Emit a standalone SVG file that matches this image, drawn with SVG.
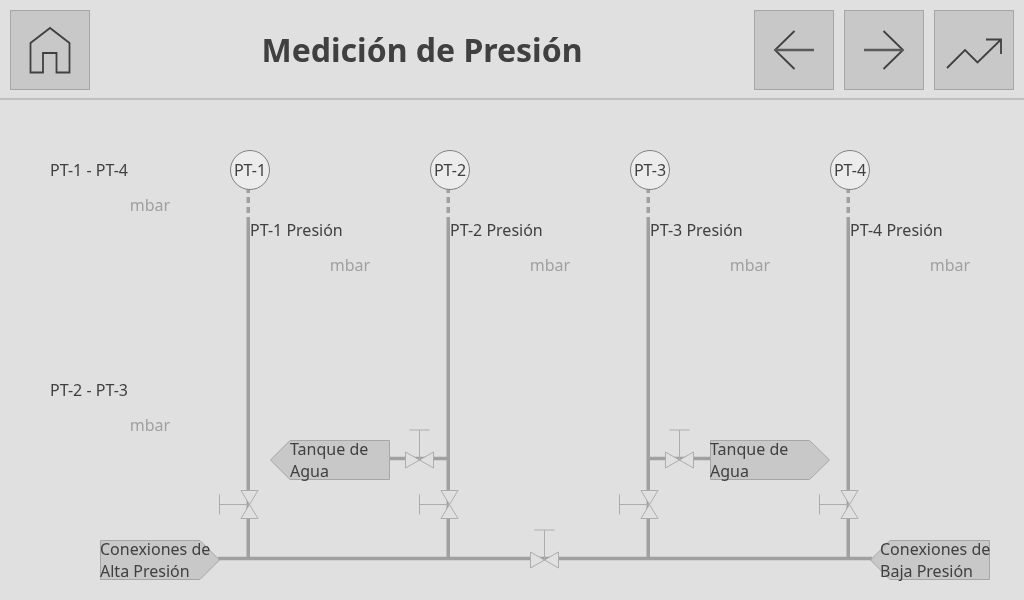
<svg xmlns="http://www.w3.org/2000/svg" width="1024" height="600" viewBox="0 0 1024 600">
<style>
text{font-family:"Noto Sans","Open Sans",sans-serif;font-size:16px;fill:#404040}
.t{filter:url(#gs)}
text.u{fill:#a0a0a0}
.c{text-anchor:middle}
.btn{fill:#c8c8c8;stroke:#a6a6a6;stroke-width:1}
.ic{fill:none;stroke:#404040;stroke-width:1.800}
.pipe{fill:none;stroke:#a0a0a0;stroke-width:3.500}
.dash{fill:none;stroke:#a0a0a0;stroke-width:3.500;stroke-dasharray:6 4}
.tag{fill:#c8c8c8;stroke:#a6a6a6;stroke-width:1}
.v{fill:#e0e0e0;stroke:#adadad;stroke-width:1}
.circ{fill:#ececec;stroke:#808080;stroke-width:1}
</style>
<defs>
<filter id="gs" filterUnits="userSpaceOnUse" x="0" y="0" width="1024" height="600" color-interpolation-filters="sRGB"><feOffset dx="0" dy="0"/></filter>
<g id="vv"><path class="v" d="M-8.500-14H8.500L0 0 8.500 14H-8.500L0 0Z"/><path class="v" d="M0 0H-30M-30-10V10"/></g>
<g id="vh"><path class="v" d="M-14-8V8L0 0 14 8V-8L0 0Z"/><path class="v" d="M0 0V-30M-10-30H10"/></g>
</defs>
<rect width="1024" height="600" fill="#e0e0e0"/>
<path d="M0 99H1024" stroke="#c0c0c0" stroke-width="2"/>
<g id="btn-home"><rect class="btn" x="10.500" y="10.500" width="79" height="79"/><path class="ic" d="M50 28 30.500 43V72.500H43V53H56.500V72.500H69.500V43Z"/></g>
<g id="btn-back"><rect class="btn" x="754.500" y="10.500" width="79" height="79"/><path class="ic" d="M794.500 31 775 50 794.500 69"/><path d="M775 50H814" stroke="#5a5a5a" stroke-width="2.500" fill="none"/></g>
<g id="btn-forward"><rect class="btn" x="844.500" y="10.500" width="79" height="79"/><path class="ic" d="M883.500 31 903 50 883.500 69"/><path d="M864 50H903" stroke="#5a5a5a" stroke-width="2.500" fill="none"/></g>
<g id="btn-trend"><rect class="btn" x="934.500" y="10.500" width="79" height="79"/><path class="ic" d="M947 68 965 50 977.500 62.500 1001 39.500M986 39.500H1001V54"/></g>
<g class="t"><text id="title" x="422" y="62" class="c" style="font-size:32px;font-weight:700">Medición de Presión</text></g>
<g id="connectors">
<path class="dash" d="M248.250 187V217M448.250 187V217M648.250 187V217M848.250 187V217"/>
<path class="pipe" d="M248.250 217V558M448.250 217V558M648.250 217V558M848.250 217V558M218 558.500H872M390 458.500H448M648 458.500H710"/>
</g>
<g id="tag-tank-l"><path class="tag" d="M270.500 460 290 440.500H389.500V479.500H290Z"/><g class="t"><text x="290" y="455">Tanque de</text><text x="290" y="477">Agua</text></g></g>
<g id="tag-tank-r"><path class="tag" d="M710.500 440.500H809.500L829.500 460 809.500 479.500H710.500Z"/><g class="t"><text x="710" y="455">Tanque de</text><text x="710" y="477">Agua</text></g></g>
<g id="tag-high"><path class="tag" d="M100.500 540.500H200L219.500 560 200 579.500H100.500Z"/><g class="t"><text x="100" y="555">Conexiones de</text><text x="100" y="577">Alta Presión</text></g></g>
<g id="tag-low"><path class="tag" d="M870.500 560 890 540.500H989.500V579.500H890Z"/><g class="t"><text x="880" y="555">Conexiones de</text><text x="880" y="577">Baja Presión</text></g></g>
<g id="valve-1"><use href="#vv" x="249.500" y="504.500"/></g>
<g id="valve-2"><use href="#vv" x="449.500" y="504.500"/></g>
<g id="valve-3"><use href="#vv" x="649.500" y="504.500"/></g>
<g id="valve-4"><use href="#vv" x="849.500" y="504.500"/></g>
<g id="valve-5"><use href="#vh" x="419.500" y="460"/></g>
<g id="valve-6"><use href="#vh" x="679.500" y="460"/></g>
<g id="valve-7"><use href="#vh" x="544.500" y="560"/></g>
<g id="pt-1"><circle class="circ" cx="250" cy="170" r="19.500"/><g class="t"><text class="c" x="250" y="176">PT-1</text></g></g>
<g id="pt-2"><circle class="circ" cx="450" cy="170" r="19.500"/><g class="t"><text class="c" x="450" y="176">PT-2</text></g></g>
<g id="pt-3"><circle class="circ" cx="650" cy="170" r="19.500"/><g class="t"><text class="c" x="650" y="176">PT-3</text></g></g>
<g id="pt-4"><circle class="circ" cx="850" cy="170" r="19.500"/><g class="t"><text class="c" x="850" y="176">PT-4</text></g></g>
<g id="labels" class="t">
<text x="50" y="176">PT-1 - PT-4</text><text class="u c" x="150" y="211">mbar</text>
<text x="50" y="396">PT-2 - PT-3</text><text class="u c" x="150" y="431">mbar</text>
<text x="250" y="236">PT-1 Presión</text><text class="u c" x="350" y="271">mbar</text>
<text x="450" y="236">PT-2 Presión</text><text class="u c" x="550" y="271">mbar</text>
<text x="650" y="236">PT-3 Presión</text><text class="u c" x="750" y="271">mbar</text>
<text x="850" y="236">PT-4 Presión</text><text class="u c" x="950" y="271">mbar</text>
</g>
</svg>
